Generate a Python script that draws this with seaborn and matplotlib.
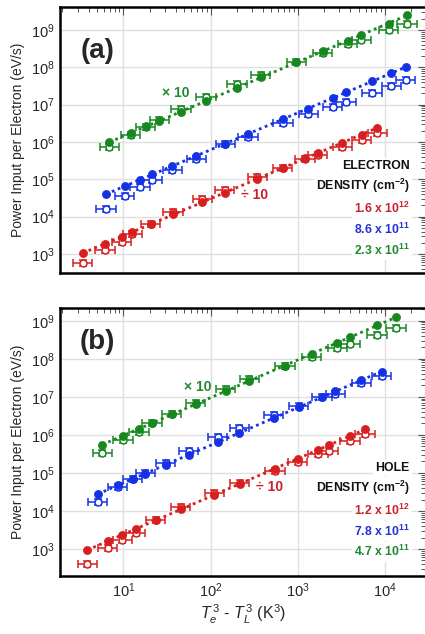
import numpy as np
import pandas as pd
import matplotlib
matplotlib.use("Agg")
import matplotlib.pyplot as plt
from matplotlib import font_manager
import seaborn as sns

# ---------------- data ----------------
# Panel (a): electrons.  x = Te^3 - TL^3 (K^3); solid / open power per carrier (eV/s)
a_red_x = [3.42, 6.16, 9.57, 12.7, 20.6, 37.1, 80.5, 145, 344, 671, 1210, 1700, 3240, 5400, 8170]
a_red_solid = [1.04e3, 1.89e3, 2.85e3, 3.88e3, 6.37e3, 1.15e4, 2.47e4, 4.40e4, 1.04e5, 2.01e5,
               3.65e5, 5.07e5, 9.4e5, 1.57e6, 2.37e6]
a_red_open = [562, 1.28e3, 2.05e3, 3.43e3, 6.37e3, 1.31e4, 3.03e4, 5.18e4, 1.18e5, 2.05e5,
              3.43e5, 4.40e5, 7.5e5, 1.13e6, 1.78e6]

a_blue_x = [6.33, 10.4, 15.5, 21.3, 36.5, 68.7, 148, 269, 676, 1320, 2510, 3570, 7090, 11800, 17300]
a_blue_solid = [4.05e4, 6.62e4, 9.6e4, 1.36e5, 2.28e5, 4.22e5, 8.84e5, 1.60e6, 4.13e6, 7.8e6,
                1.54e7, 2.14e7, 4.30e7, 6.90e7, 1.0e8]
a_blue_open = [1.64e4, 3.58e4, 6.1e4, 9.6e4, 1.78e5, 3.43e5, 8.8e5, 1.39e6, 3.16e6, 5.62e6,
               8.48e6, 1.15e7, 2.10e7, 3.16e7, 4.58e7]

a_green_x = [6.92, 12.1, 18.0, 25.9, 45.8, 88.7, 201, 378, 962, 1930, 3730, 5350, 11000, 17900]
a_green_solid = [9.8e5, 1.71e6, 2.63e6, 3.65e6, 6.37e6, 1.25e7, 2.85e7, 5.40e7, 1.36e8, 2.68e8,
                 5.18e8, 7.35e8, 1.48e9, 2.47e9]
a_green_open = [7.5e5, 1.54e6, 2.52e6, 3.88e6, 7.8e6, 1.64e7, 3.58e7, 6.23e7, 1.39e8, 2.37e8,
                4.13e8, 5.40e8, 9.8e8, 1.45e9]

# Panel (b): holes
b_red_x = [3.87, 6.62, 9.74, 13.8, 23.4, 45.7, 110, 216, 548, 1000, 1710, 2270, 3980, 5910]
b_red_solid = [964, 1.63e3, 2.30e3, 3.30e3, 5.69e3, 1.11e4, 2.63e4, 5.12e4, 1.27e5, 2.37e5,
               4.08e5, 5.42e5, 9.33e5, 1.40e6]
b_red_open = [397, 1.05e3, 1.73e3, 2.70e3, 5.69e3, 1.25e4, 2.91e4, 5.33e4, 1.15e5, 1.90e5,
              3.14e5, 3.85e5, 7.05e5, 1.05e6]

b_blue_x = [5.09, 8.61, 12.8, 17.9, 30.5, 55.9, 121, 214, 529, 1030, 1900, 2710, 5370, 9170]
b_blue_solid = [2.85e4, 4.72e4, 6.93e4, 9.4e4, 1.61e5, 2.96e5, 6.37e5, 1.14e6, 2.77e6, 5.28e6,
                1.01e7, 1.39e7, 2.76e7, 4.57e7]
b_blue_open = [1.69e4, 4.36e4, 6.93e4, 1.02e5, 1.86e5, 3.85e5, 8.6e5, 1.49e6, 3.33e6, 5.85e6,
               9.9e6, 1.16e7, 2.26e7, 3.52e7]

b_green_x = [5.75, 9.9, 15.1, 21.3, 36.0, 67.8, 149, 279, 713, 1450, 2850, 4020, 8110, 13400]
b_green_solid = [5.42e5, 9.5e5, 1.46e6, 2.01e6, 3.46e6, 6.47e6, 1.45e7, 2.65e7, 6.58e7, 1.33e8,
                 2.64e8, 3.72e8, 7.54e8, 1.22e9]
b_green_open = [3.27e5, 7.33e5, 1.19e6, 2.01e6, 3.46e6, 7.0e6, 1.57e7, 2.88e7, 6.44e7, 1.09e8,
                1.88e8, 2.39e8, 4.2e8, 6.29e8]

a_densities = ["1.6 x 10$^{12}$", "8.6 x 10$^{11}$", "2.3 x 10$^{11}$"]
b_densities = ["1.2 x 10$^{12}$", "7.8 x 10$^{11}$", "4.7 x 10$^{11}$"]

x_major_ticks = [1e1, 1e2, 1e3, 1e4]
y_major_ticks = [1e3, 1e4, 1e5, 1e6, 1e7, 1e8, 1e9]

# uncertainty half-widths in decades
X_ERR_DEX = 0.11
Y_ERR_DEX = 0.08

# ---------------- style ----------------
RED, BLUE, GREEN = "#d81f1f", "#1431e6", "#17881f"
TXT_RED, TXT_BLUE, TXT_GREEN = "#c8202c", "#2233d0", "#1f8a2a"

sns.set_theme(style="whitegrid")


def pick_font(names):
    for n in names:
        try:
            font_manager.findfont(n, fallback_to_default=False)
            return n
        except Exception:
            continue
    return "DejaVu Sans"


FONT = pick_font(["Liberation Sans Narrow", "Liberation Sans", "DejaVu Sans"])
plt.rcParams["font.family"] = [FONT, "DejaVu Sans"]
plt.rcParams["mathtext.fontset"] = "custom"
plt.rcParams["mathtext.rm"] = FONT
plt.rcParams["mathtext.it"] = FONT + ":italic"
plt.rcParams["mathtext.bf"] = FONT + ":bold"
plt.rcParams["mathtext.default"] = "regular"

fig = plt.figure(figsize=(4.25, 6.34), dpi=100, facecolor="white")
ax_a = fig.add_axes([0.1412, 0.5694, 0.8612, 0.4196])
ax_b = fig.add_axes([0.1412, 0.0915, 0.8612, 0.4227])


def draw_series(ax, x, solid, open_, color):
    x = np.asarray(x, float)
    solid = np.asarray(solid, float)
    open_ = np.asarray(open_, float)
    xerr = [x * (1 - 10 ** -X_ERR_DEX), x * (10 ** X_ERR_DEX - 1)]
    yerr = [open_ * (1 - 10 ** -Y_ERR_DEX), open_ * (10 ** Y_ERR_DEX - 1)]
    ax.errorbar(x, open_, xerr=xerr, yerr=yerr, fmt="o", ms=5.0, mfc="white",
                mec=color, mew=1.1, ecolor=color, elinewidth=1.1, capsize=2.6,
                capthick=1.1, zorder=3)
    # power-law fit through the solid points
    k, c = np.polyfit(np.log10(x), np.log10(solid), 1)
    fx = np.array([x.min(), x.max()])
    fit = pd.DataFrame({"x": fx, "y": 10 ** (c + k * np.log10(fx))})
    sns.lineplot(data=fit, x="x", y="y", ax=ax, color=color, lw=2.0,
                 linestyle=(0, (1, 1.3)), zorder=4)
    pts = pd.DataFrame({"x": x, "y": solid})
    sns.scatterplot(data=pts, x="x", y="y", ax=ax, color=color, s=34,
                    edgecolor=color, linewidth=0.5, zorder=5)


def style_axes(ax, ylim):
    ax.set_xscale("log")
    ax.set_yscale("log")
    ax.set_xlim(10 ** 0.274, 10 ** 4.471)
    ax.set_ylim(*ylim)
    ax.set_facecolor("white")
    ax.xaxis.set_major_locator(matplotlib.ticker.FixedLocator(x_major_ticks))
    ax.yaxis.set_major_locator(matplotlib.ticker.FixedLocator(y_major_ticks))
    ax.xaxis.set_minor_locator(matplotlib.ticker.LogLocator(base=10, subs=np.arange(2, 10), numticks=15))
    ax.yaxis.set_minor_locator(matplotlib.ticker.LogLocator(base=10, subs=np.arange(2, 10), numticks=15))
    ax.xaxis.set_major_formatter(matplotlib.ticker.LogFormatterSciNotation())
    ax.yaxis.set_major_formatter(matplotlib.ticker.LogFormatterSciNotation())
    ax.xaxis.set_minor_formatter(matplotlib.ticker.NullFormatter())
    ax.yaxis.set_minor_formatter(matplotlib.ticker.NullFormatter())
    ax.grid(True, which="major", color="#e0e0e0", lw=1.0)
    ax.grid(False, which="minor")
    for s in ax.spines.values():
        s.set_color("black")
        s.set_linewidth(1.8)
    ax.tick_params(which="both", direction="in", top=True, right=True,
                   color="#555555", labelsize=10.5, pad=4)
    ax.tick_params(which="major", length=6, width=0.8)
    ax.tick_params(which="minor", length=3.5, width=0.7)
    ax.set_ylabel("Power Input per Electron (eV/s)", fontsize=10, labelpad=4)
    ax.set_xlabel("")


def annotate(ax, tag, y_tag, times_xy, div_xy, title, dens, y_rows):
    ax.text(0.1015, y_tag, tag, transform=ax.transAxes, fontsize=20,
            fontweight="bold", ha="center", va="center", zorder=6)
    ax.text(*times_xy, "\u00d7 10", transform=ax.transAxes, fontsize=10,
            fontweight="bold", color=TXT_GREEN, ha="center", va="center", zorder=6)
    ax.text(*div_xy, "\u00f7 10", transform=ax.transAxes, fontsize=10,
            fontweight="bold", color=TXT_RED, ha="center", va="center", zorder=6)
    labels = [title, "DENSITY (cm$^{\\mathbf{-2}}$)"] + dens
    colors = ["#111111", "#111111", TXT_RED, TXT_BLUE, TXT_GREEN]
    for lab, col, yy in zip(labels, colors, y_rows):
        ax.text(0.955, yy, lab, transform=ax.transAxes, fontsize=8.8,
                fontweight="bold", color=col, ha="right", va="center", zorder=6,
                bbox=dict(facecolor="white", edgecolor="none", pad=1.5))


for ax, (xs, ss, os_, cs) in [
    (ax_a, ([a_red_x, a_blue_x, a_green_x], [a_red_solid, a_blue_solid, a_green_solid],
            [a_red_open, a_blue_open, a_green_open], [RED, BLUE, GREEN])),
    (ax_b, ([b_red_x, b_blue_x, b_green_x], [b_red_solid, b_blue_solid, b_green_solid],
            [b_red_open, b_blue_open, b_green_open], [RED, BLUE, GREEN])),
]:
    for x, s, o, c in zip(xs, ss, os_, cs):
        draw_series(ax, x, s, o, c)

style_axes(ax_a, (10 ** 2.491, 10 ** 9.616))
style_axes(ax_b, (10 ** 2.291, 10 ** 9.334))
ax_a.tick_params(axis="x", labelbottom=False)
ax_b.set_xlabel("$\\mathit{T}_{\\mathit{e}}^{\\,3}$ - $\\mathit{T}_{\\mathit{L}}^{\\,3}$ (K$^3$)",
                fontsize=11.5, labelpad=2)

annotate(ax_a, "(a)", 0.835, (0.3155, 0.6756), (0.532, 0.2932), "ELECTRON",
         a_densities, [0.402, 0.327, 0.244, 0.165, 0.0865])
annotate(ax_b, "(b)", 0.873, (0.375, 0.704), (0.5715, 0.331), "HOLE",
         b_densities, [0.403, 0.328, 0.246, 0.168, 0.090])

fig.savefig("out.png", dpi=100, facecolor="white")
